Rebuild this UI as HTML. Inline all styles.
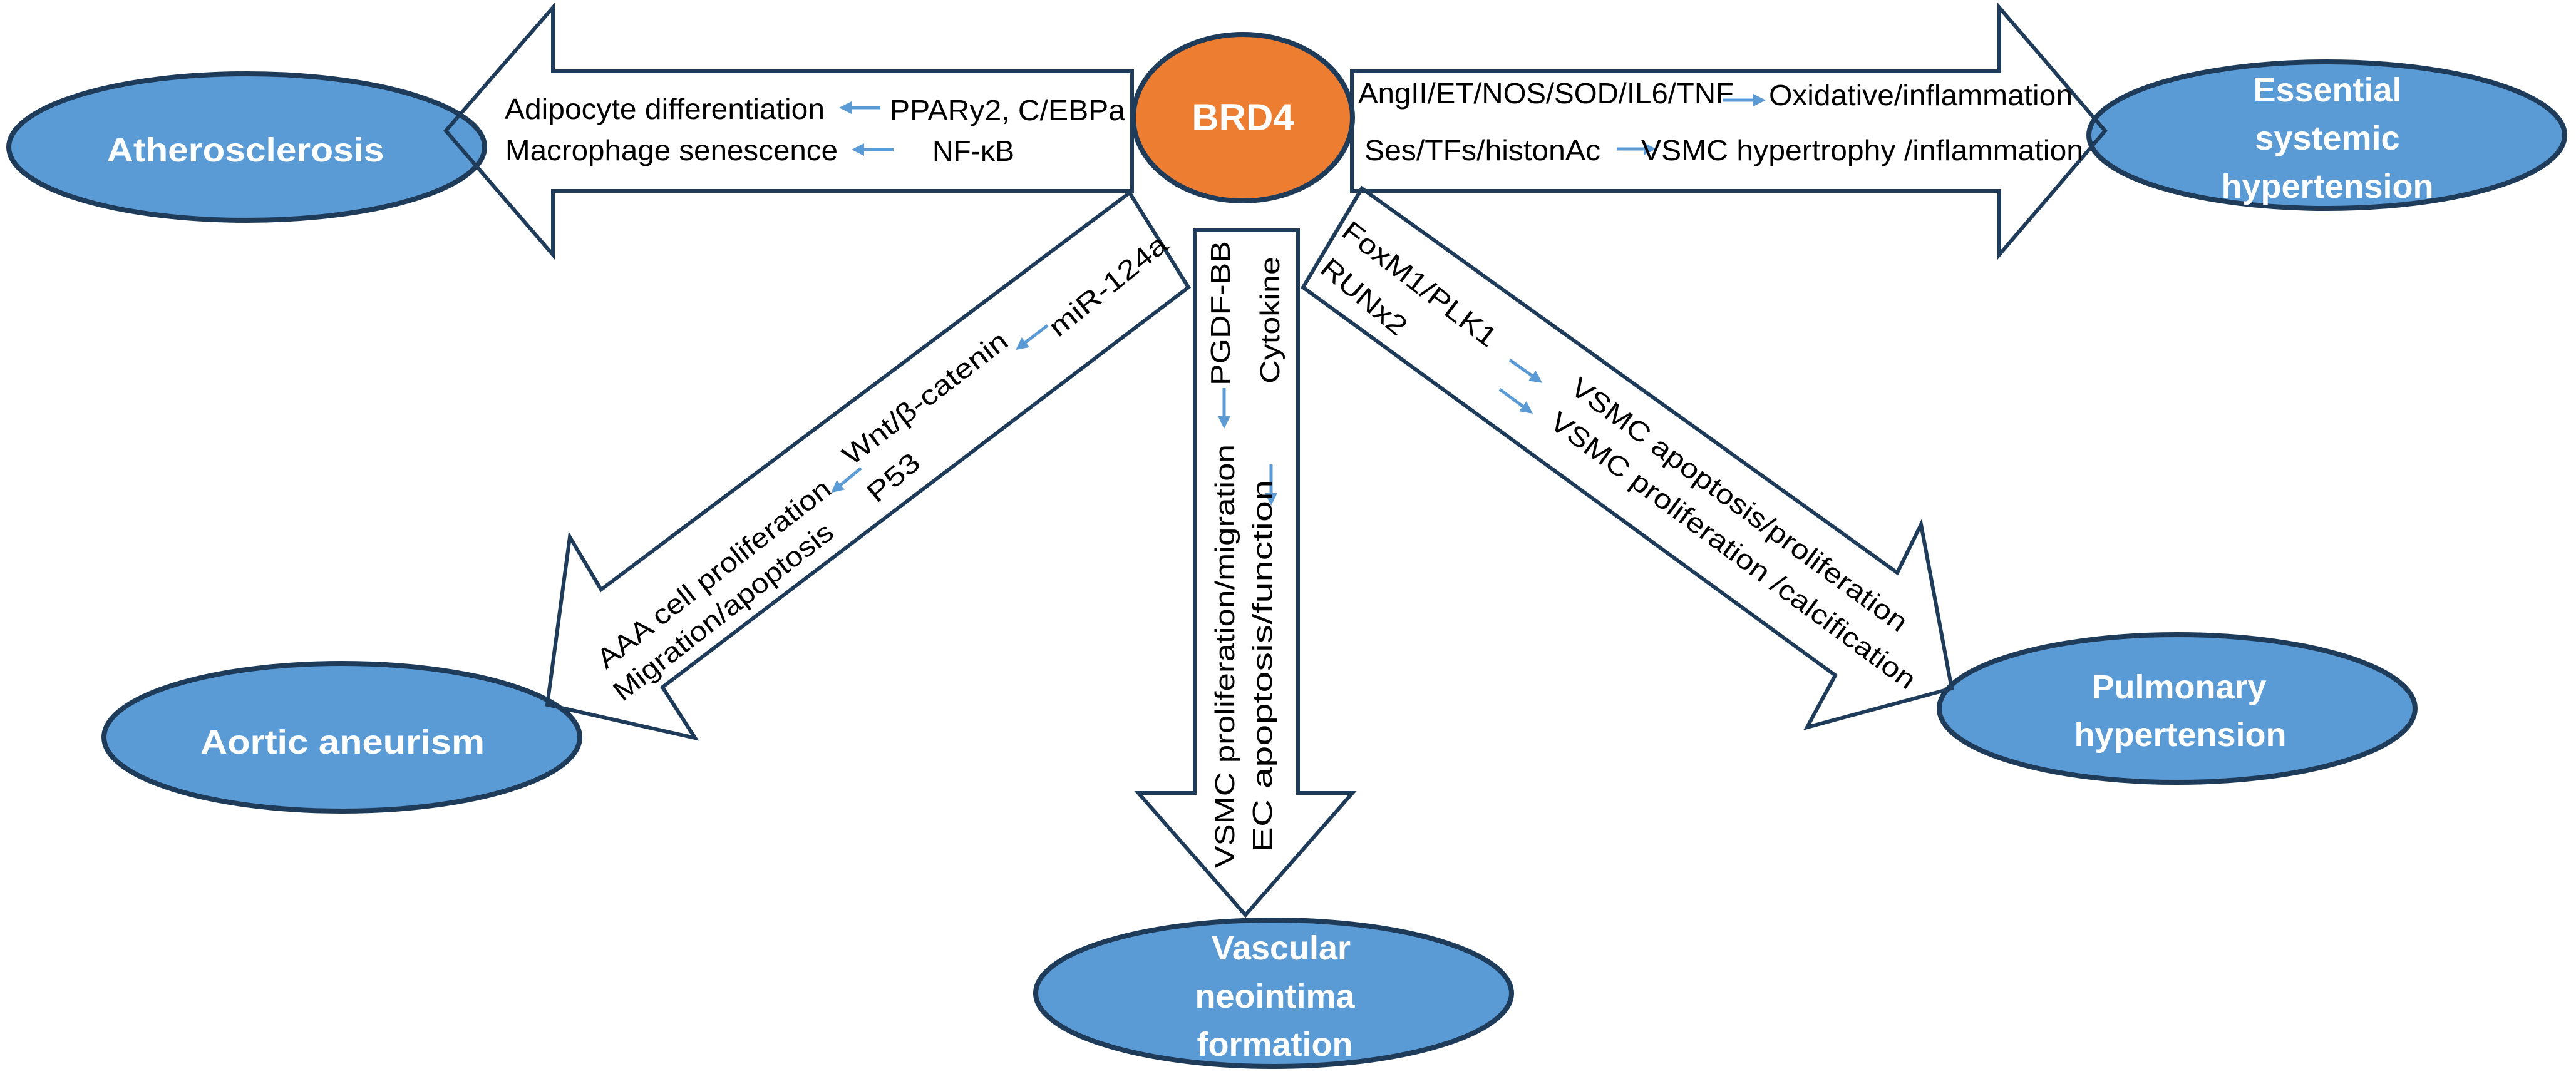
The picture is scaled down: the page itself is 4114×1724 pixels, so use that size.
<!DOCTYPE html>
<html><head><meta charset="utf-8"><style>html,body{margin:0;padding:0;background:#fff}svg{display:block}</style></head>
<body>
<svg width="4114" height="1724" viewBox="0 0 4114 1724" xmlns="http://www.w3.org/2000/svg" font-family="Liberation Sans, Arial, sans-serif">
<defs>
<marker id="ah" markerWidth="4" markerHeight="4" refX="2" refY="2" orient="auto" markerUnits="strokeWidth"><path d="M0,0 L4,2 L0,4 z" fill="#5b9bd5"/></marker>
</defs>
<g fill="#fff" stroke="none">
<polygon points="712,209 883,12 883,114 1808,114 1808,305 883,305 883,407"/>
<polygon points="2159,114 3193,114 3193,12 3362,209 3193,407 3193,305 2159,305"/>
<polygon points="1908,368 2073,368 2073,1267 2160,1267 1989,1462 1818,1267 1908,1267"/>
<polygon points="1804,308 1898,459 1058,1098 1110,1179 874,1126 910,858 960,942"/>
<polygon points="2175,301 3030,915 3068,838 3117,1100 2886,1162 2931,1079 2081,459"/>
</g>
<g fill="#5b9bd5" stroke="#1f3b5a" stroke-width="8">
<ellipse cx="394" cy="235" rx="380" ry="117"/>
<ellipse cx="3716" cy="216" rx="380" ry="117"/>
<ellipse cx="546" cy="1178" rx="380" ry="118"/>
<ellipse cx="3477" cy="1132" rx="380" ry="118"/>
<ellipse cx="2034" cy="1587" rx="380" ry="117"/>
<ellipse cx="1985" cy="188" rx="175" ry="133" fill="#ed7d31"/>
</g>
<g fill="none" stroke="#1f3b5a" stroke-width="6" stroke-linejoin="miter">
<polygon points="712,209 883,12 883,114 1808,114 1808,305 883,305 883,407"/>
<polygon points="2159,114 3193,114 3193,12 3362,209 3193,407 3193,305 2159,305"/>
<polygon points="1908,368 2073,368 2073,1267 2160,1267 1989,1462 1818,1267 1908,1267"/>
<polygon points="1804,308 1898,459 1058,1098 1110,1179 874,1126 910,858 960,942"/>
<polygon points="2175,301 3030,915 3068,838 3117,1100 2886,1162 2931,1079 2081,459"/>
</g>
<g stroke="#5b9bd5" stroke-width="5" fill="none" marker-end="url(#ah)">
<line x1="1406" y1="172" x2="1350" y2="172"/>
<line x1="1427" y1="239" x2="1370" y2="239"/>
<line x1="2752" y1="160" x2="2810" y2="160"/>
<line x1="2582" y1="238" x2="2635" y2="238"/>
<line x1="1955" y1="620" x2="1955" y2="675"/>
<line x1="2030" y1="742" x2="2030" y2="798"/>
<line x1="1673" y1="520" x2="1630" y2="553"/>
<line x1="1375" y1="748" x2="1335" y2="781"/>
<line x1="2411" y1="575" x2="2455" y2="606"/>
<line x1="2395" y1="622" x2="2440" y2="655"/>
</g>
<g fill="#000" font-size="46">
<text x="806" y="190" textLength="511" lengthAdjust="spacingAndGlyphs">Adipocyte differentiation</text>
<text x="1421" y="192" textLength="376" lengthAdjust="spacingAndGlyphs">PPARy2, C/EBPa</text>
<text x="807" y="256" textLength="531" lengthAdjust="spacingAndGlyphs">Macrophage senescence</text>
<text x="1489" y="257" textLength="131" lengthAdjust="spacingAndGlyphs">NF-κB</text>
<text x="2169" y="165" textLength="600" lengthAdjust="spacingAndGlyphs">AngII/ET/NOS/SOD/IL6/TNF</text>
<text x="2825" y="168" textLength="485" lengthAdjust="spacingAndGlyphs">Oxidative/inflammation</text>
<text x="2179" y="256" textLength="377" lengthAdjust="spacingAndGlyphs">Ses/TFs/histonAc</text>
<text x="2621" y="256" textLength="706" lengthAdjust="spacingAndGlyphs">VSMC hypertrophy /inflammation</text>
<g font-size="44">
<text transform="translate(1690,540) rotate(-39)" textLength="229" lengthAdjust="spacingAndGlyphs">miR-124a</text>
<text transform="translate(1360,745) rotate(-37.5)" textLength="319" lengthAdjust="spacingAndGlyphs">Wnt/β-catenin</text>
<text transform="translate(1400,805) rotate(-40)" textLength="95" lengthAdjust="spacingAndGlyphs">P53</text>
<text transform="translate(968,1070) rotate(-38)" textLength="460" lengthAdjust="spacingAndGlyphs">AAA cell proliferation</text>
<text transform="translate(994,1122) rotate(-38)" textLength="432" lengthAdjust="spacingAndGlyphs">Migration/apoptosis</text>
<text transform="translate(2140,375) rotate(37.5)" textLength="298" lengthAdjust="spacingAndGlyphs">FoxM1/PLK1</text>
<text transform="translate(2106,433) rotate(40)" textLength="164" lengthAdjust="spacingAndGlyphs">RUNx2</text>
<text transform="translate(2505,625) rotate(36.2)" textLength="654" lengthAdjust="spacingAndGlyphs">VSMC apoptosis/proliferation</text>
<text transform="translate(2472,680) rotate(36.4)" textLength="713" lengthAdjust="spacingAndGlyphs">VSMC proliferation /calcification</text>
<text transform="translate(1971,1387) rotate(-90)" textLength="677" lengthAdjust="spacingAndGlyphs">VSMC proliferation/migration</text>
<text transform="translate(2031,1362) rotate(-90)" textLength="596" lengthAdjust="spacingAndGlyphs">EC apoptosis/function</text>
<text transform="translate(1964,616) rotate(-90)" textLength="231" lengthAdjust="spacingAndGlyphs">PGDF-BB</text>
<text transform="translate(2043,613) rotate(-90)" textLength="203" lengthAdjust="spacingAndGlyphs">Cytokine</text>
</g>
</g>
<g fill="#fff" font-weight="bold" font-size="54" text-anchor="middle">
<text x="1985" y="208" font-size="60">BRD4</text>
<text x="392" y="258" textLength="443" lengthAdjust="spacingAndGlyphs">Atherosclerosis</text>
<text x="3717" y="162">Essential</text>
<text x="3717" y="239">systemic</text>
<text x="3717" y="316">hypertension</text>
<text x="547" y="1204" textLength="454" lengthAdjust="spacingAndGlyphs">Aortic aneurism</text>
<text x="3480" y="1116">Pulmonary</text>
<text x="3482" y="1192">hypertension</text>
<text x="2046" y="1533">Vascular</text>
<text x="2036" y="1610">neointima</text>
<text x="2036" y="1687">formation</text>
</g>
</svg>
</body></html>
